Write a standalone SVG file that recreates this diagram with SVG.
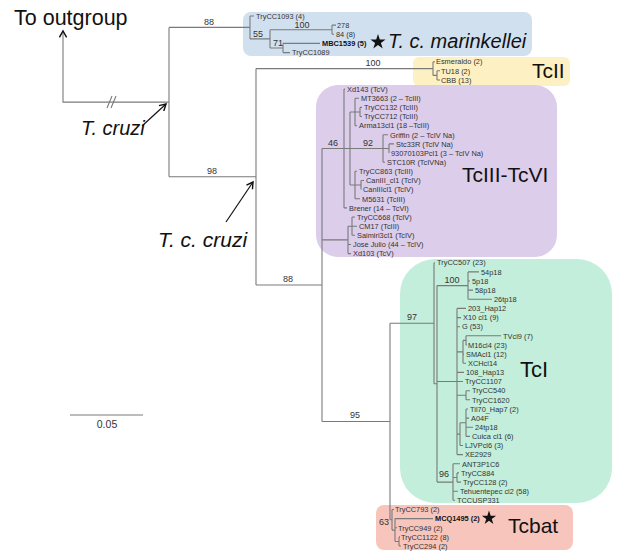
<svg xmlns="http://www.w3.org/2000/svg" width="636" height="552" viewBox="0 0 636 552">
<style>
.br{fill:none;stroke:#7a7a7a;stroke-width:1.1}
.ar{fill:none;stroke:#111;stroke-width:1.2}
.lf{font-family:"Liberation Sans",Arial,sans-serif;font-size:7.4px;fill:#333}
.b{font-weight:bold;fill:#111}
.bs{font-family:"Liberation Sans",Arial,sans-serif;font-size:9px;fill:#333}
.cl{font-family:"Liberation Sans",Arial,sans-serif;font-size:21px;fill:#111}
.it{font-style:italic}
.c{text-anchor:middle}
</style>
<defs>
<marker id="ah" viewBox="0 0 10 10" refX="8" refY="5" markerWidth="9" markerHeight="9" markerUnits="userSpaceOnUse" orient="auto">
<path d="M1,1 L8,5 L1,9" fill="none" stroke="#111" stroke-width="1.6"/>
</marker>
<path id="star" d="M0,-10 L2.25,-3.09 L9.51,-3.09 L3.63,1.18 L5.88,8.09 L0,3.82 L-5.88,8.09 L-3.63,1.18 L-9.51,-3.09 L-2.25,-3.09 Z" fill="#111"/>
</defs>
<rect width="636" height="552" fill="#fff"/>

<g id="boxes">
<rect x="243" y="12" width="289" height="44" rx="8" fill="#d1e0ef"/>
<rect x="413" y="57" width="157" height="29" rx="6" fill="#fdf0c2"/>
<rect x="316" y="85" width="241" height="172" rx="22" fill="#dccdeb"/>
<rect x="400" y="259" width="212" height="244" rx="35" fill="#c3eedb"/>
<rect x="376" y="505" width="197" height="45" rx="8" fill="#f8c5bc"/>
</g>

<g id="connectors">
<path class="br" d="M169,27.4 H250 M250,16 V38.9 M250,16 H254 M250,38.9 H270 M270,29.7 V48 M270,29.7 H332 M332,25.1 V34.3 M332,25.1 H336 M332,34.3 H334 M270,48 H283 M283,43.4 V52.6 M283,43.4 H320 M283,52.6 H290"/>
<path class="br" d="M169,27.4 V176.8 M169,176.8 H256 M256,68.6 V285 M256,68.6 H433 M433,61.7 V75.4 M433,61.7 H435 M433,75.4 H437 M437,70.8 V80 M437,70.8 H440 M437,80 H440"/>
<path class="br" d="M256,285 H322 M322,148.5 V421.5 M322,148.5 H344 M344,89.1 V207.9 M344,89.1 H345 M344,207.9 H347 M344,148.5 H350 M350,112 V185 M350,112 H360 M355,98.2 V125.7 M355,98.2 H359 M360,107.4 V116.5 M360,107.4 H362 M360,116.5 H362 M355,125.7 H357 M350,148.5 H389 M383,134.8 V162.2 M383,134.8 H388 M389,143.9 V153.1 M389,143.9 H394 M383,162.2 H385 M350,185 H361 M355,171.3 V198.8 M355,171.3 H357 M361,180.5 V189.6 M361,180.5 H364 M355,198.8 H360"/>
<path class="br" d="M322,239.9 H348 M348,226.2 V253.6 M348,226.2 H352 M352,217 V235.3 M352,217 H355 M352,226.2 H357 M352,235.3 H355 M348,244.5 H351 M348,253.6 H351"/>
<path class="br" d="M322,421.5 H390 M390,323.3 V519.8 M390,323.3 H434 M434,262.7 V383.8 M434,262.7 H435 M434,383.8 H437 M437,285.6 V482.1 M437,285.6 H468 M468,271.9 V299.3 M468,271.9 H479 M468,281 H470 M468,290.1 H473 M468,299.3 H492"/>
<path class="br" d="M437,381.5 H457 M457,308.4 V454.6 M457,308.4 H466 M457,317.6 H461 M457,326.7 H460 M457,351.9 H463 M463,340.4 V363.3 M463,340.4 H466 M466,335.8 V345 M466,335.8 H501 M466,345 H467 M463,354.1 H464 M463,363.3 H466 M457,372.4 H464 M457,381.5 H463 M457,395.3 H466 M466,390.7 V399.8 M466,390.7 H470 M466,399.8 H470 M457,434.1 H460 M460,422.7 V445.5 M460,422.7 H466 M466,409 V436.4 M466,409 H468 M466,418.1 H469 M466,427.2 H473 M466,436.4 H470 M460,445.5 H463 M457,454.6 H463"/>
<path class="br" d="M437,482.1 H453 M453,463.8 V500.3 M453,463.8 H460 M453,477.5 H457 M457,472.9 V482.1 M457,472.9 H459 M457,482.1 H461 M453,491.2 H458 M453,500.3 H455"/>
<path class="br" d="M390,519.8 H392 M392,509.5 V530.1 M392,509.5 H394 M392,530.1 H395 M395,518.6 V541.5 M395,518.6 H433 M395,527.8 H397 M395,541.5 H399 M399,536.9 V546 M399,536.9 H400 M399,546 H401"/>
<path class="br" d="M169,102.1 H63 V31" marker-end="url(#ah)"/>
<path class="br" d="M107,108 L112,96 M111,108 L116,96"/>
<path class="ar" d="M142,126 L166,104" marker-end="url(#ah)"/>
<path class="ar" d="M226,222 L253,182" marker-end="url(#ah)"/>
</g>

<g id="bootstrap">
<text class="bs c" x="209" y="24.5">88</text>
<text class="bs" x="253" y="37">55</text>
<text class="bs c" x="302" y="27.5">100</text>
<text class="bs" x="273" y="45.5">71</text>
<text class="bs c" x="373" y="65.5">100</text>
<text class="bs c" x="212" y="173.5">98</text>
<text class="bs c" x="333" y="145.5">46</text>
<text class="bs c" x="368" y="145.5">92</text>
<text class="bs c" x="288" y="281.5">88</text>
<text class="bs c" x="452" y="282.5">100</text>
<text class="bs c" x="412" y="319.5">97</text>
<text class="bs c" x="355" y="418">95</text>
<text class="bs c" x="444" y="477">96</text>
<text class="bs" x="389" y="525" text-anchor="end">63</text>
</g>

<g id="outgroup">
<text class="cl" x="14" y="25" style="font-size:21.5px">To outgroup</text>
</g>
<g id="t-cruzi">
<text class="cl it" x="81" y="135" style="font-size:20px">T. cruzi</text>
</g>
<g id="t-c-cruzi">
<text class="cl it" x="158" y="247" style="font-size:21px">T. c. cruzi</text>
</g>

<g id="clade-marinkellei">
<text class="lf" x="256" y="18.7">TryCC1093 (4)</text>
<text class="lf" x="337" y="27.8">278</text>
<text class="lf" x="336" y="37">84 (8)</text>
<text class="lf b" x="322" y="46.1">MBC1539 (5)</text>
<text class="lf" x="292" y="55.3">TryCC1089</text>
<use href="#star" transform="translate(378,42) scale(0.8)"/>
<text class="cl it" x="388" y="48" style="font-size:20px">T. c. marinkellei</text>
</g>

<g id="clade-TcII">
<text class="lf" x="436" y="64.4">Esmeraldo (2)</text>
<text class="lf" x="441" y="73.5">TU18 (2)</text>
<text class="lf" x="441" y="82.7">CBB (13)</text>
<text class="cl" x="532" y="78">TcII</text>
</g>

<g id="clade-TcIII-TcVI">
<text class="lf" x="347" y="91.8">Xd143 (TcV)</text>
<text class="lf" x="361" y="100.9">MT3663 (2 – TcIII)</text>
<text class="lf" x="364" y="110.1">TryCC132 (TcIII)</text>
<text class="lf" x="364" y="119.2">TryCC712 (TcIII)</text>
<text class="lf" x="359" y="128.4">Arma13cl1 (18 –TcIII)</text>
<text class="lf" x="390" y="137.5">Griffin (2 – TcIV Na)</text>
<text class="lf" x="396" y="146.6">Stc33R (TcIV Na)</text>
<text class="lf" x="391" y="155.8">93070103Pcl1 (3 – TcIV Na)</text>
<text class="lf" x="387" y="164.9">STC10R (TcIVNa)</text>
<text class="lf" x="359" y="174">TryCC863 (TcIII)</text>
<text class="lf" x="366" y="183.2">CanIII_cl1 (TcIV)</text>
<text class="lf" x="363" y="192.3">CanIIIcl1 (TcIV)</text>
<text class="lf" x="362" y="201.5">M5631 (TcIII)</text>
<text class="lf" x="349" y="210.6">Brener (14 – TcVI)</text>
<text class="lf" x="357" y="219.7">TryCC668 (TcIV)</text>
<text class="lf" x="359" y="228.9">CM17 (TcIII)</text>
<text class="lf" x="357" y="238">Saimiri3cl1 (TcIV)</text>
<text class="lf" x="353" y="247.2">Jose Julio (44 – TcIV)</text>
<text class="lf" x="353" y="256.3">Xd103 (TcV)</text>
<text class="cl" x="462" y="182">TcIII-TcVI</text>
</g>

<g id="clade-TcI">
<text class="lf" x="437" y="265.4">TryCC507 (23)</text>
<text class="lf" x="481" y="274.6">54p18</text>
<text class="lf" x="472" y="283.7">5p18</text>
<text class="lf" x="475" y="292.8">58p18</text>
<text class="lf" x="494" y="302">26tp18</text>
<text class="lf" x="468" y="311.1">203_Hap12</text>
<text class="lf" x="463" y="320.3">X10 cl1 (9)</text>
<text class="lf" x="462" y="329.4">G (53)</text>
<text class="lf" x="503" y="338.5">TVcl9 (7)</text>
<text class="lf" x="468" y="347.7">M16cl4 (23)</text>
<text class="lf" x="466" y="356.8">SMAcl1 (12)</text>
<text class="lf" x="468" y="366">XCHcl14</text>
<text class="lf" x="466" y="375.1">108_Hap13</text>
<text class="lf" x="465" y="384.2">TryCC1107</text>
<text class="lf" x="472" y="393.4">TryCC540</text>
<text class="lf" x="472" y="402.5">TryCC1620</text>
<text class="lf" x="470" y="411.7">Til70_Hap7 (2)</text>
<text class="lf" x="471" y="420.8">A04F</text>
<text class="lf" x="475" y="429.9">24tp18</text>
<text class="lf" x="472" y="439.1">Cuica cl1 (6)</text>
<text class="lf" x="465" y="448.2">LJVPcl6 (3)</text>
<text class="lf" x="465" y="457.3">XE2929</text>
<text class="lf" x="462" y="466.5">ANT3P1C6</text>
<text class="lf" x="461" y="475.6">TryCC884</text>
<text class="lf" x="463" y="484.8">TryCC128 (2)</text>
<text class="lf" x="460" y="493.9">Tehuentepec cl2 (58)</text>
<text class="lf" x="457" y="503">TCCUSP331</text>
<text class="cl" x="520" y="377" style="font-size:22px">TcI</text>
</g>

<g id="clade-Tcbat">
<text class="lf" x="395" y="512.2">TryCC793 (2)</text>
<text class="lf b" x="435" y="521.3">MCQ1495 (2)</text>
<use href="#star" transform="translate(489,518) scale(0.75)"/>
<text class="lf" x="398" y="530.5">TryCC949 (2)</text>
<text class="lf" x="401" y="539.6">TryCC1122 (8)</text>
<text class="lf" x="403" y="548.7">TryCC294 (2)</text>
<text class="cl" x="508" y="533">Tcbat</text>
</g>

<g id="scale">
<path class="br" d="M70,415 H143" style="stroke-width:1.2"/>
<text class="bs c" x="107" y="428" style="font-size:10.5px">0.05</text>
</g>
</svg>
